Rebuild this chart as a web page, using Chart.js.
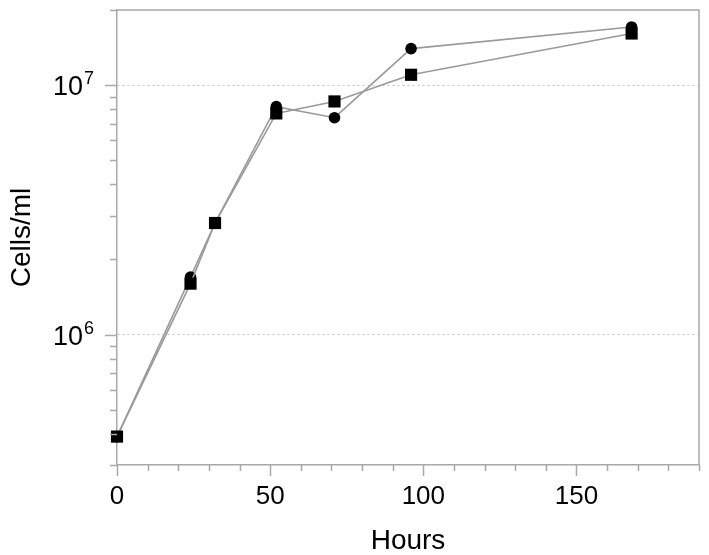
<!DOCTYPE html>
<html>
<head>
<meta charset="utf-8">
<script src="https://cdn.jsdelivr.net/npm/chart.js@4.4.0/dist/chart.umd.min.js"></script>
<style>
  html, body { margin: 0; padding: 0; background: #fff; }
  #wrap { width: 709px; height: 555px; }
</style>
</head>
<body>
<div id="wrap"><canvas id="chart"></canvas></div>
<script>
// Data (cells/ml vs hours)
const hours = [0, 24, 32, 52, 71, 96, 168];
const cellsCircle = [3.9e5, 1.70e6, 2.80e6, 8.2e6, 7.4e6, 1.40e7, 1.71e7];
const cellsSquare = [3.9e5, 1.60e6, 2.80e6, 7.7e6, 8.6e6, 1.10e7, 1.61e7];

// Axis ticks
const xLabelTicks = [0, 50, 100, 150];
const xMinorTicks = [0, 10, 20, 30, 40, 50, 60, 70, 80, 90, 100, 110, 120, 130, 140, 150, 160, 170, 180, 190];
const yAllTicks = [3e5, 4e5, 5e5, 6e5, 7e5, 8e5, 9e5, 1e6, 2e6, 3e6, 4e6, 5e6, 6e6, 7e6, 8e6, 9e6, 1e7, 2e7];
const yMajorTicks = [1e6, 1e7];
const yExponents = ['6', '7'];

const axisGrey = '#a9a9a9';
const gridGrey = '#c4c4c4';
const lineGrey = '#9a9a9a';
const fontFamily = '"Liberation Sans", Arial, Helvetica, sans-serif';

// ticks of two lengths, top/right frame and 10^n labels, all placed from the scales
const tickMarks = {
    id: 'tickMarks',
    afterDraw(chart) {
        const { ctx, chartArea: a, scales: { x, y } } = chart;
        ctx.save();
        ctx.strokeStyle = axisGrey;
        ctx.lineWidth = 1.5;
        ctx.beginPath();
        ctx.moveTo(a.left, a.top);
        ctx.lineTo(a.right, a.top);
        ctx.lineTo(a.right, a.bottom);
        xMinorTicks.forEach(v => {
            const px = Math.round(x.getPixelForValue(v)) + 0.5;
            const len = xLabelTicks.includes(v) ? 11 : 6;
            ctx.moveTo(px, a.bottom);
            ctx.lineTo(px, a.bottom + len);
        });
        yAllTicks.forEach(v => {
            const py = Math.round(y.getPixelForValue(v)) + 0.5;
            const len = yMajorTicks.includes(v) ? 12 : 7;
            ctx.moveTo(a.left, py);
            ctx.lineTo(a.left - len, py);
        });
        ctx.stroke();

        // power-of-ten labels with a real superscript
        ctx.fillStyle = '#000';
        ctx.textBaseline = 'alphabetic';
        yMajorTicks.forEach((v, i) => {
            const py = y.getPixelForValue(v);
            const xEnd = a.left - 34;
            ctx.font = '27px ' + fontFamily;
            ctx.textAlign = 'right';
            ctx.fillText('10', xEnd, py + 10);
            ctx.font = '18px ' + fontFamily;
            ctx.textAlign = 'left';
            ctx.fillText(yExponents[i], xEnd + 1, py - 1);
        });
        ctx.restore();
    }
};

const ctx = document.getElementById('chart').getContext('2d');
const growthChart = new Chart(ctx, {
    type: 'line',
    data: {
        datasets: [{
            label: 'squares',
            data: hours.map((h, i) => ({ x: h, y: cellsSquare[i] })),
            borderColor: lineGrey,
            borderWidth: 1.6,
            pointStyle: 'rect',
            pointRadius: 8.6,
            pointBackgroundColor: '#000',
            pointBorderColor: '#000',
            pointBorderWidth: 0,
            clip: false
        }, {
            label: 'circles',
            data: hours.map((h, i) => ({ x: h, y: cellsCircle[i] })),
            borderColor: lineGrey,
            borderWidth: 1.6,
            pointStyle: 'circle',
            pointRadius: 5.8,
            pointBackgroundColor: '#000',
            pointBorderColor: '#000',
            pointBorderWidth: 0,
            clip: false
        }]
    },
    options: {
        responsive: true,
        maintainAspectRatio: false,
        animation: false,
        devicePixelRatio: 1,
        layout: { padding: { top: 10, right: 10, left: 0, bottom: 0 } },
        plugins: { legend: { display: false }, tooltip: { enabled: false } },
        scales: {
            x: {
                type: 'linear',
                min: 0,
                max: 190,
                afterBuildTicks: s => { s.ticks = xLabelTicks.map(v => ({ value: v })); },
                afterFit: s => { s.height = 90; s.paddingLeft = 0; s.paddingRight = 0; },
                grid: { display: false, drawTicks: false },
                border: { display: true, color: axisGrey, width: 1.5 },
                ticks: {
                    color: '#000',
                    padding: 16,
                    maxRotation: 0,
                    autoSkip: false,
                    font: { family: fontFamily, size: 26 }
                },
                title: {
                    display: true,
                    text: 'Hours',
                    color: '#000',
                    padding: { top: 0, bottom: -3 },
                    font: { family: fontFamily, size: 28 }
                }
            },
            y: {
                type: 'logarithmic',
                min: 3e5,
                max: 2e7,
                afterBuildTicks: s => { s.ticks = yAllTicks.map(v => ({ value: v })); },
                afterFit: s => { s.width = 117; s.paddingTop = 0; s.paddingBottom = 0; },
                grid: {
                    drawTicks: false,
                    lineWidth: 1,
                    color: c => (c.tick && yMajorTicks.includes(c.tick.value)) ? gridGrey : 'rgba(0,0,0,0)'
                },
                border: { display: true, color: axisGrey, width: 1.5, dash: [2, 3] },
                ticks: { display: false },
                title: {
                    display: true,
                    text: 'Cells/ml',
                    color: '#000',
                    padding: { top: 5, bottom: 0 },
                    font: { family: fontFamily, size: 28 }
                }
            }
        }
    },
    plugins: [tickMarks]
});
</script>
</body>
</html>
